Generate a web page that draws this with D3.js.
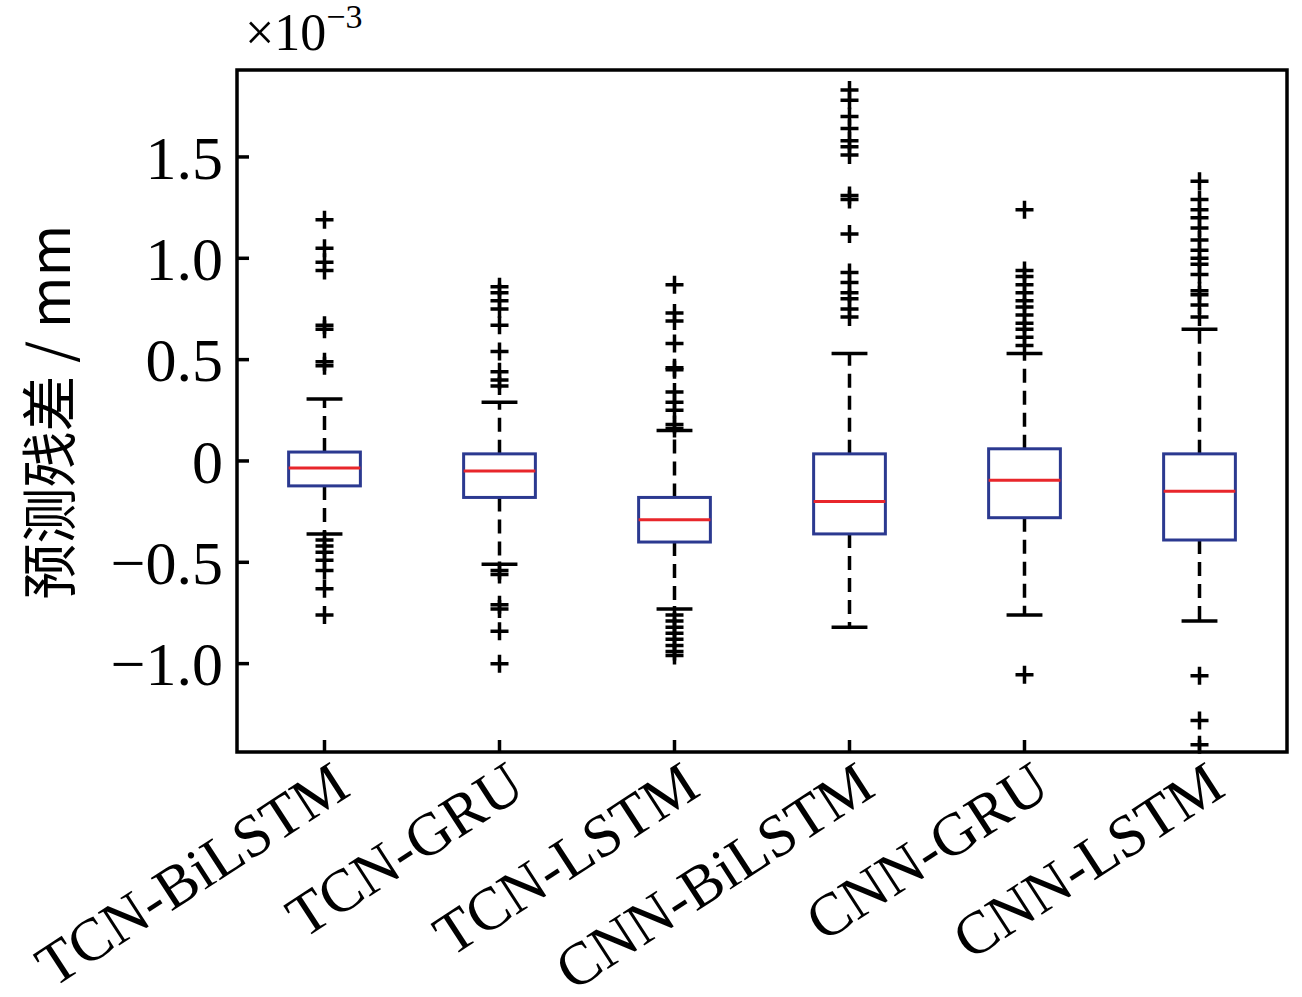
<!DOCTYPE html>
<html><head><meta charset="utf-8">
<script src="https://cdn.jsdelivr.net/npm/d3@7"></script>
<style>body{margin:0;background:#fff}</style></head>
<body><svg id="c" width="1302" height="997"></svg>
<script>
const categories=["TCN-BiLSTM","TCN-GRU","TCN-LSTM","CNN-BiLSTM","CNN-GRU","CNN-LSTM"];
const q1=[-0.123,-0.18,-0.40,-0.36,-0.28,-0.39];
const medians=[-0.035,-0.05,-0.29,-0.20,-0.095,-0.15];
const q3=[0.044,0.035,-0.18,0.035,0.06,0.035];
const whiskLo=[-0.36,-0.51,-0.73,-0.82,-0.76,-0.79];
const whiskHi=[0.306,0.29,0.15,0.53,0.53,0.65];
const outliers=[
 [1.19,1.05,0.98,0.94,0.67,0.65,0.49,0.47,-0.39,-0.42,-0.45,-0.49,-0.54,-0.63,-0.76],
 [0.86,0.83,0.79,0.75,0.67,0.54,0.44,0.40,0.37,-0.54,-0.56,-0.71,-0.73,-0.84,-1.0],
 [0.87,0.73,0.69,0.58,0.46,0.45,0.34,0.29,0.25,0.18,0.16,-0.76,-0.79,-0.82,-0.85,-0.88,-0.91,-0.94,-0.96],
 [1.83,1.78,1.70,1.64,1.58,1.55,1.51,1.31,1.29,1.12,0.93,0.88,0.83,0.80,0.75,0.71],
 [1.24,0.94,0.91,0.87,0.83,0.79,0.76,0.72,0.68,0.65,0.61,0.57,-1.055],
 [1.38,1.29,1.24,1.20,1.15,1.09,1.04,1.00,0.97,0.92,0.84,0.82,0.77,0.71,-1.06,-1.28,-1.40]
];
const yTicks=[-1.0,-0.5,0,0.5,1.0,1.5];
const yTickLabels=["\u22121.0","\u22120.5","0","0.5","1.0","1.5"];

const svg=d3.select("#c");
const L=237,R=1287,T=70,B=752;
const x=d3.scaleLinear().domain([0.5,6.5]).range([L,R]);
const y=d3.scaleLinear().domain([-1.436,1.929]).range([B,T]);
const font="'Liberation Serif','Times New Roman',serif";
const g=svg.append("g");
categories.forEach((c,i)=>{
  const cx=x(i+1),hw=(x(1.205)-x(1));
  const cap=hw*0.5;
  g.append("line").attr("x1",cx).attr("x2",cx).attr("y1",y(q3[i])).attr("y2",y(whiskHi[i])).attr("stroke","#000").attr("stroke-width",3.5).attr("stroke-dasharray","14,8");
  g.append("line").attr("x1",cx).attr("x2",cx).attr("y1",y(q1[i])).attr("y2",y(whiskLo[i])).attr("stroke","#000").attr("stroke-width",3.5).attr("stroke-dasharray","14,8");
  [whiskHi[i],whiskLo[i]].forEach(v=>g.append("line").attr("x1",cx-cap).attr("x2",cx+cap).attr("y1",y(v)).attr("y2",y(v)).attr("stroke","#000").attr("stroke-width",3.5));
  g.append("rect").attr("x",cx-hw).attr("width",2*hw).attr("y",y(q3[i])).attr("height",y(q1[i])-y(q3[i])).attr("fill","#fff").attr("stroke","#2b3990").attr("stroke-width",3);
  g.append("line").attr("x1",cx-hw).attr("x2",cx+hw).attr("y1",y(medians[i])).attr("y2",y(medians[i])).attr("stroke","#e8262b").attr("stroke-width",3);
  outliers[i].forEach(v=>{
    const py=y(v);
    if(py>B) return;
    g.append("path").attr("d",`M${cx-9},${py}H${cx+9}M${cx},${py-9}V${py+9}`).attr("stroke","#000").attr("stroke-width",3.5);
  });
});
svg.append("rect").attr("x",L).attr("y",T).attr("width",R-L).attr("height",B-T).attr("fill","none").attr("stroke","#000").attr("stroke-width",3.5);
yTicks.forEach((v,i)=>{
  svg.append("line").attr("x1",L).attr("x2",L+12).attr("y1",y(v)).attr("y2",y(v)).attr("stroke","#000").attr("stroke-width",3.5);
  svg.append("text").attr("x",L-14).attr("y",y(v)).attr("dy","0.35em").attr("text-anchor","end").attr("font-family",font).attr("font-size",62).text(yTickLabels[i]);
});
categories.forEach((c,i)=>{
  const cx=x(i+1);
  svg.append("line").attr("x1",cx).attr("x2",cx).attr("y1",B).attr("y2",B-12).attr("stroke","#000").attr("stroke-width",3.5);
  svg.append("text").attr("transform",`translate(${cx+28},${B+42}) rotate(-33)`).attr("text-anchor","end").attr("font-family",font).attr("font-size",60).text(c);
});
const t=svg.append("text").attr("x",245).attr("y",50).attr("font-family",font).attr("font-size",52);
t.append("tspan").text("\u00d710");
t.append("tspan").attr("dy",-22).attr("font-size",34).text("\u22123");
svg.append("text").attr("transform","translate(70,412) rotate(-90)").attr("text-anchor","middle").attr("font-family","'Noto Sans CJK SC',"+font).attr("font-size",56).text("预测残差 / mm");
</script></body></html>
